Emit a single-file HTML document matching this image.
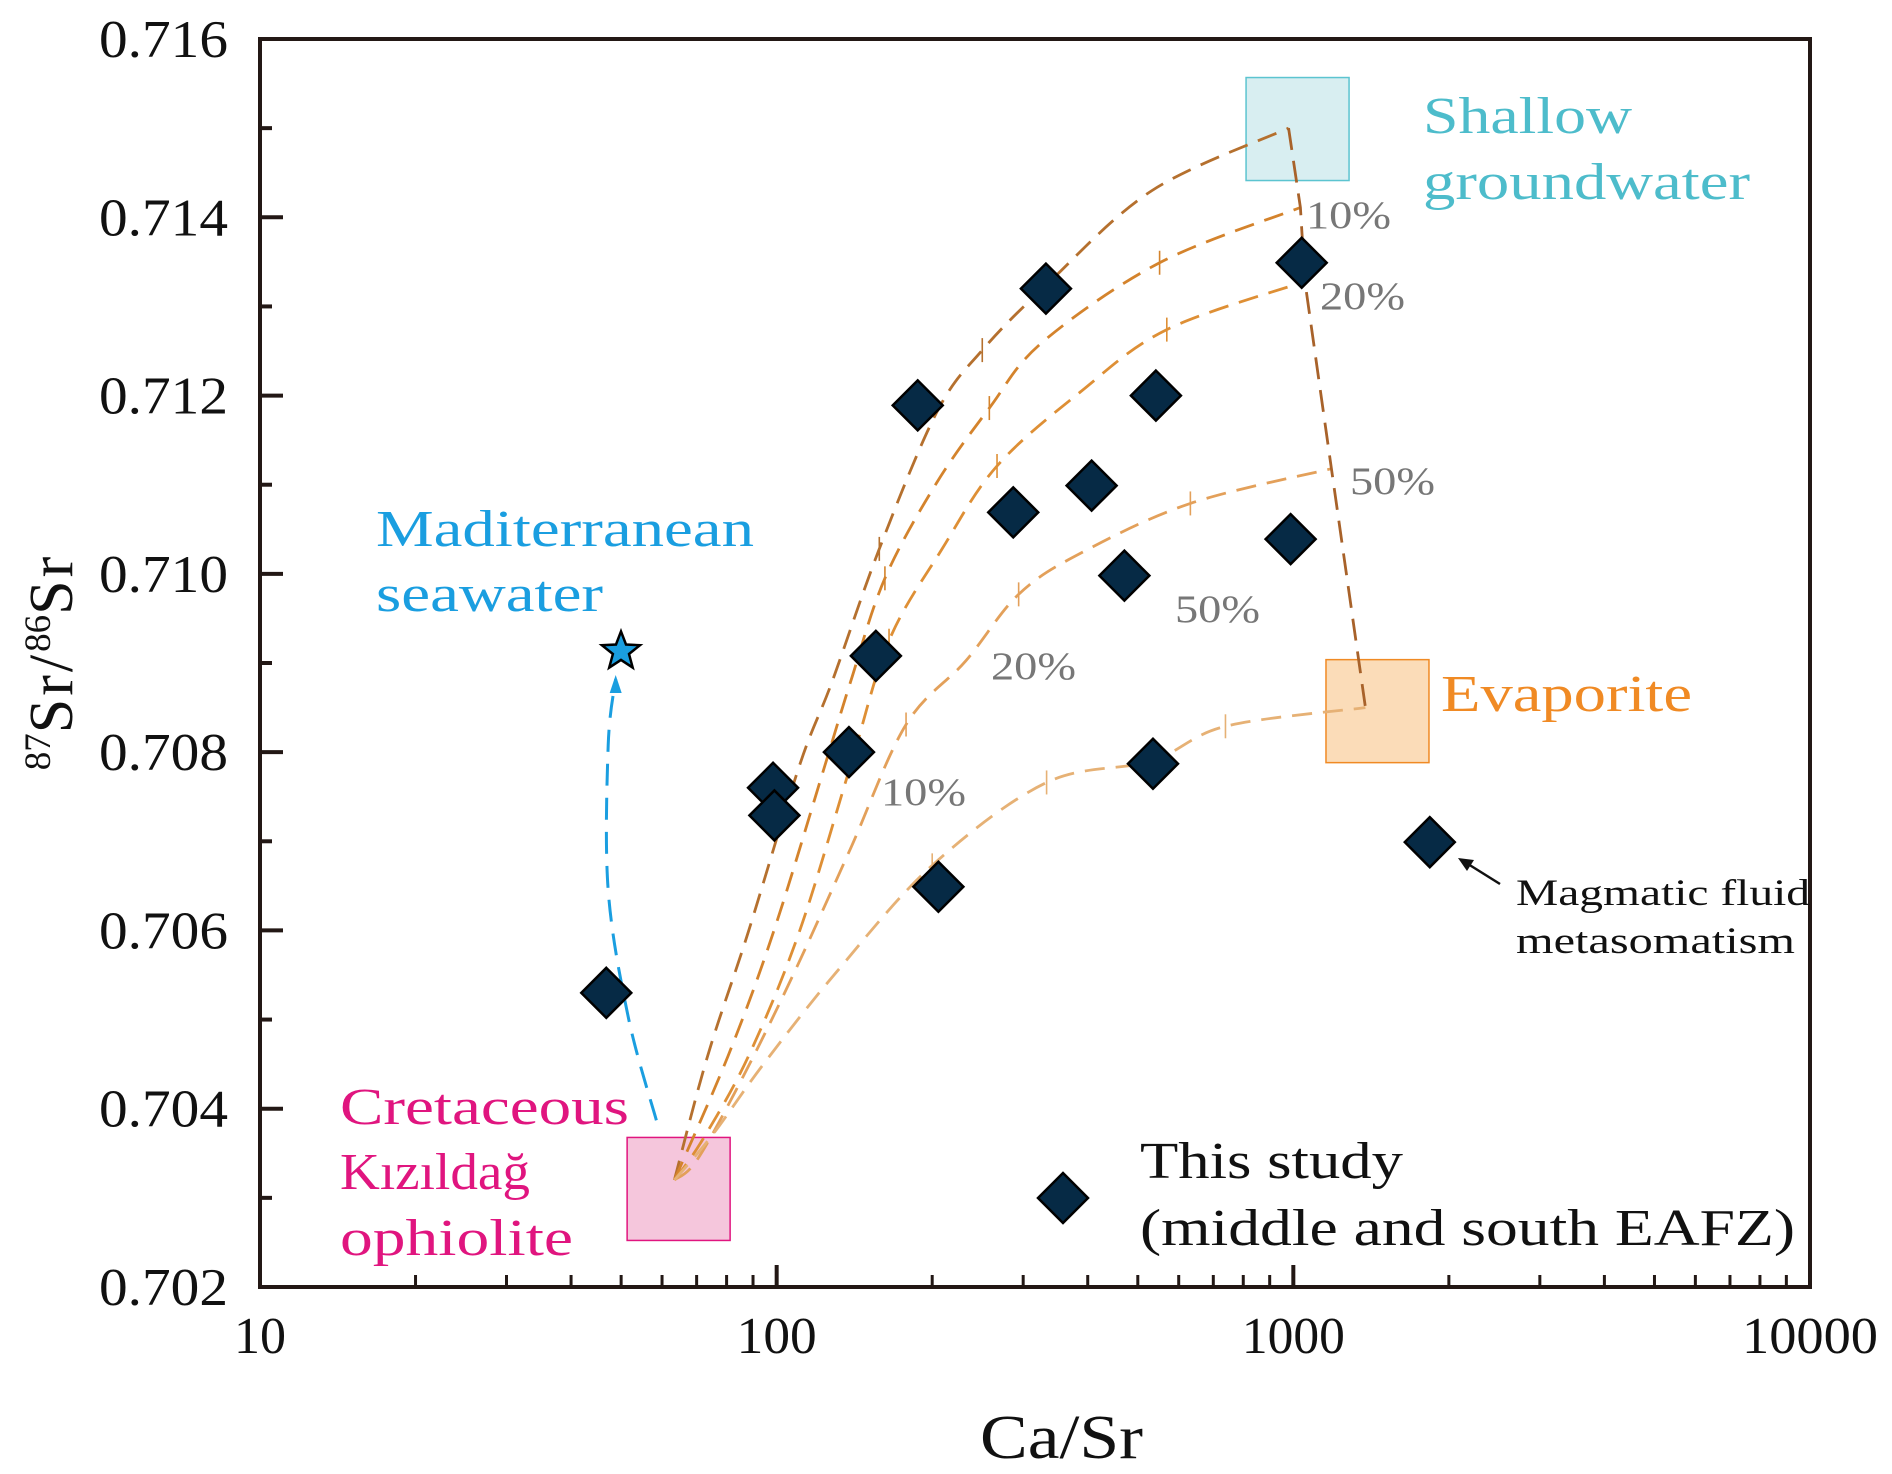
<!DOCTYPE html>
<html><head><meta charset="utf-8">
<style>
html,body{margin:0;padding:0;background:#fff;}
svg{display:block;font-family:"Liberation Serif",serif;}
</style></head>
<body>
<svg id="chart" width="1892" height="1474" viewBox="0 0 1892 1474" xmlns="http://www.w3.org/2000/svg">
<g id="boxes"></g>
<g id="curves"></g>
<g id="pts"></g>
<g id="axes"></g>
<g id="labels">
<text x="1423" y="133" font-size="52" fill="#4dbccb" textLength="209" lengthAdjust="spacingAndGlyphs">Shallow</text>
<text x="1423" y="199" font-size="52" fill="#4dbccb" textLength="327" lengthAdjust="spacingAndGlyphs">groundwater</text>
<text x="1306" y="228" font-size="39" fill="#777" textLength="85" lengthAdjust="spacingAndGlyphs">10%</text>
<text x="1320" y="309" font-size="39" fill="#777" textLength="85" lengthAdjust="spacingAndGlyphs">20%</text>
<text x="1350" y="494" font-size="39" fill="#777" textLength="85" lengthAdjust="spacingAndGlyphs">50%</text>
<text x="1175" y="622" font-size="39" fill="#777" textLength="85" lengthAdjust="spacingAndGlyphs">50%</text>
<text x="991" y="679" font-size="39" fill="#777" textLength="85" lengthAdjust="spacingAndGlyphs">20%</text>
<text x="881" y="805" font-size="39" fill="#777" textLength="85" lengthAdjust="spacingAndGlyphs">10%</text>
<text x="376" y="546" font-size="52" fill="#1a9ee0" textLength="378" lengthAdjust="spacingAndGlyphs">Maditerranean</text>
<text x="376" y="611" font-size="52" fill="#1a9ee0" textLength="227" lengthAdjust="spacingAndGlyphs">seawater</text>
<text x="1441" y="711" font-size="52" fill="#f08a24" textLength="251" lengthAdjust="spacingAndGlyphs">Evaporite</text>
<text x="340" y="1124" font-size="52" fill="#e0157f" textLength="289" lengthAdjust="spacingAndGlyphs">Cretaceous</text>
<text x="340" y="1189" font-size="52" fill="#e0157f" textLength="190" lengthAdjust="spacingAndGlyphs">Kızıldağ</text>
<text x="340" y="1255" font-size="52" fill="#e0157f" textLength="233" lengthAdjust="spacingAndGlyphs">ophiolite</text>
<text x="1140" y="1178" font-size="52" fill="#111" textLength="263" lengthAdjust="spacingAndGlyphs">This study</text>
<text x="1140" y="1245" font-size="52" fill="#111" textLength="655" lengthAdjust="spacingAndGlyphs">(middle and south EAFZ)</text>
<text x="1516" y="905" font-size="37" fill="#111" textLength="294" lengthAdjust="spacingAndGlyphs">Magmatic fluid</text>
<text x="1516" y="953" font-size="37" fill="#111" textLength="279" lengthAdjust="spacingAndGlyphs">metasomatism</text>
<line x1="1500" y1="884" x2="1468" y2="864" stroke="#111" stroke-width="2.5"/>
<polygon points="1458,858 1474,860 1467,871" fill="#111"/>
<text x="980" y="1458" font-size="62" fill="#111" textLength="163" lengthAdjust="spacingAndGlyphs">Ca/Sr</text>
<text transform="translate(72,662) rotate(-90)" font-size="62" text-anchor="middle" fill="#111"><tspan font-size="37" dy="-22">87</tspan><tspan dy="22" letter-spacing="3">Sr/</tspan><tspan font-size="37" dy="-22">86</tspan><tspan dy="22" letter-spacing="3">Sr</tspan></text>
</g>
</svg>
<script>
const NS='http://www.w3.org/2000/svg';
const L=260,R=1810,T=39,B=1287;
const X=v=>L+(Math.log10(v)-1)*(R-L)/3;
const Y=v=>T+(0.716-v)*(B-T)/0.014;
function mk(tag,attrs,parent){const e=document.createElementNS(NS,tag);for(const k in attrs)e.setAttribute(k,attrs[k]);parent.appendChild(e);return e;}

// data
const sampleCaSr=[46.8,187.5,332,1038,542,407,287,471,988,155.6,138,98.4,99,535,205.6,1837];
const sampleSr=[0.70530,0.71189,0.71320,0.71349,0.71200,0.71099,0.71069,0.70998,0.71039,0.70908,0.70800,0.70760,0.70729,0.70787,0.70649,0.70699];
const seawaterCaSr=[49.96];
const seawaterSr=[0.70913];
const pathCaSr=[58.5,51.7,47.2,47.2,48.8];
const pathSr=[0.70387,0.70501,0.70645,0.70808,0.70882];
const curve1CaSr=[63.4,73.5,88.2,110.7,128,158,204,250,334,533,979];
const curve1Sr=[0.70320,0.70459,0.70599,0.70785,0.70879,0.71028,0.71181,0.71251,0.71325,0.71430,0.71500];
const curve2CaSr=[63.4,80.5,98.7,124,139,162,204,258,327,551,1032];
const curve2Sr=[0.70320,0.70459,0.70599,0.70785,0.70879,0.70995,0.71102,0.71186,0.71260,0.71349,0.71411];
const curve3CaSr=[63.4,72,88.2,110.7,139,165,209,267,387,569,1053];
const curve3Sr=[0.70320,0.70366,0.70459,0.70599,0.70785,0.70925,0.71028,0.71121,0.71204,0.71274,0.71328];
const curve4CaSr=[63.4,70.2,86.1,108,139,178,232,294,387,632,1185];
const curve4Sr=[0.70320,0.70343,0.70436,0.70552,0.70692,0.70831,0.70902,0.70977,0.71023,0.71079,0.71118];
const curve5CaSr=[63.4,75.2,94.3,130,200,333,531,739,1379];
const curve5Sr=[0.70320,0.70371,0.70450,0.70552,0.70673,0.70766,0.70790,0.70829,0.70850];
const curveTicks=[[158,250,334],[162,258,551],[165,267,569],[178,294,632],[200,333,739]];
const boxCaSr=[64.6,1019,1455];
const boxSr=[0.70310,0.71499,0.70846];
const xTicks=[10,100,1000,10000];
const xTickLabels=['10','100','1000','10000'];
const xTickWidths=[52,80,103,136];
const yTicks=[0.702,0.704,0.706,0.708,0.710,0.712,0.714,0.716];
const yTickLabels=['0.702','0.704','0.706','0.708','0.710','0.712','0.714','0.716'];

const curves=[[curve1CaSr,curve1Sr,'#b5702e'],[curve2CaSr,curve2Sr,'#d4832c'],[curve3CaSr,curve3Sr,'#de8f35'],[curve4CaSr,curve4Sr,'#e3a05a'],[curve5CaSr,curve5Sr,'#e6b175']];

function smooth(pts){
  let d='M'+pts[0][0]+','+pts[0][1];
  for(let i=0;i<pts.length-1;i++){
    const p0=pts[Math.max(0,i-1)],p1=pts[i],p2=pts[i+1],p3=pts[Math.min(pts.length-1,i+2)];
    const c1=[p1[0]+(p2[0]-p0[0])/6,p1[1]+(p2[1]-p0[1])/6];
    const c2=[p2[0]-(p3[0]-p1[0])/6,p2[1]-(p3[1]-p1[1])/6];
    d+=' C'+c1[0].toFixed(1)+','+c1[1].toFixed(1)+' '+c2[0].toFixed(1)+','+c2[1].toFixed(1)+' '+p2[0].toFixed(1)+','+p2[1].toFixed(1);
  }
  return d;
}
function interpY(xs,ys,xv){
  for(let i=0;i<xs.length-1;i++){
    if(xv>=xs[i]&&xv<=xs[i+1]){const t=(Math.log10(xv)-Math.log10(xs[i]))/(Math.log10(xs[i+1])-Math.log10(xs[i]));return ys[i]+t*(ys[i+1]-ys[i]);}
  }
  return ys[ys.length-1];
}

// boxes
const gb=document.getElementById('boxes');
const boxStyle=[['#f5c6dc','#e0157f','ophiolite-box'],['#d8eef1','#5cc4d0','shallow-groundwater-box'],['#fbdcb8','#f08a24','evaporite-box']];
boxCaSr.forEach((v,i)=>{
  const r=mk('rect',{x:X(v)-51.5,y:Y(boxSr[i])-51.5,width:103,height:103,fill:boxStyle[i][0],stroke:boxStyle[i][1],'stroke-width':1.5},gb);
  
  
});

// curves
const gc=document.getElementById('curves');
curves.forEach((c,i)=>{
  const pts=c[0].map((v,j)=>[X(v),Y(c[1][j])]);
  const p=mk('path',{d:smooth(pts),fill:'none',stroke:c[2],'stroke-width':2.8,'stroke-dasharray':'20 11'},gc);
  
  
  curveTicks[i].forEach(tv=>{
    const yy=Y(interpY(c[0],c[1],tv));
    const t=mk('line',{x1:X(tv),x2:X(tv),y1:yy-12,y2:yy+12,stroke:c[2],'stroke-width':1.6},gc);
    
    
  });
});
// connector
const ends=curves.map(c=>[X(c[0][c[0].length-1]),Y(c[1][c[1].length-1])]);
const con=mk('polyline',{points:ends.map(p=>p.join(',')).join(' '),fill:'none',stroke:'#a8622a','stroke-width':2.8,'stroke-dasharray':'22 11'},gc);


// seawater path
const sp=pathCaSr.map((v,j)=>[X(v),Y(pathSr[j])]);
const spath=mk('path',{d:smooth(sp),fill:'none',stroke:'#1a9ee0','stroke-width':3,'stroke-dasharray':'22 12'},gc);


const tip=sp[sp.length-1];
const ah=mk('polygon',{points:(tip[0]-6)+','+(tip[1]+14)+' '+(tip[0]+6)+','+(tip[1]+14)+' '+tip[0]+','+(tip[1]-4),fill:'#1a9ee0'},gc);



// points
const gp=document.getElementById('pts');
function diamond(cx,cy,name){
  const s=25;
  const d=mk('polygon',{points:`${cx},${cy-s} ${cx+s},${cy} ${cx},${cy+s} ${cx-s},${cy}`,fill:'#062a45',stroke:'#000','stroke-width':2.5},gp);
  
  
}
sampleCaSr.forEach((v,i)=>diamond(X(v),Y(sampleSr[i]),'sample-point'));
diamond(1063,1198,'legend-marker');
seawaterCaSr.forEach((v,i)=>{
  const cx=X(v),cy=Y(seawaterSr[i]),ro=20,ri=8.5;let pts=[];
  for(let k=0;k<10;k++){const a=-Math.PI/2+k*Math.PI/5;const r=k%2?ri:ro;pts.push((cx+r*Math.cos(a)).toFixed(1)+','+(cy+r*Math.sin(a)).toFixed(1));}
  const s=mk('polygon',{points:pts.join(' '),fill:'#1a9ee0',stroke:'#000','stroke-width':2.5},gp);
  
  
});

// axes
const ga=document.getElementById('axes');
const frame=mk('rect',{x:L,y:T,width:R-L,height:B-T,fill:'none',stroke:'#231815','stroke-width':4},ga);


xTicks.forEach((v,i)=>{
  const x=X(v);
  if(i>0&&i<xTicks.length-1){const t=mk('line',{x1:x,x2:x,y1:B,y2:B-22,stroke:'#231815','stroke-width':4},ga);}
  const lb=mk('text',{x:x-xTickWidths[i]/2,y:1353,'font-size':52,textLength:xTickWidths[i],lengthAdjust:'spacingAndGlyphs',fill:'#111'},ga);
  lb.textContent=xTickLabels[i];
  
  
  if(i<xTicks.length-1){for(let m=2;m<=9;m++){const xm=X(v*m);const t=mk('line',{x1:xm,x2:xm,y1:B,y2:B-12,stroke:'#231815','stroke-width':3},ga);}}
});
yTicks.forEach((v,i)=>{
  const y=Y(v);
  if(i>0&&i<yTicks.length-1){const t=mk('line',{x1:L,x2:L+23,y1:y,y2:y,stroke:'#231815','stroke-width':4},ga);}
  const lb=mk('text',{x:99,y:y+18,'font-size':53,textLength:129,lengthAdjust:'spacingAndGlyphs',fill:'#111'},ga);
  lb.textContent=yTickLabels[i];
  
  
  if(i<yTicks.length-1){const ym=Y(v+0.001);const t=mk('line',{x1:L,x2:L+12,y1:ym,y2:ym,stroke:'#231815','stroke-width':4},ga);}
});
</script>
</body></html>
